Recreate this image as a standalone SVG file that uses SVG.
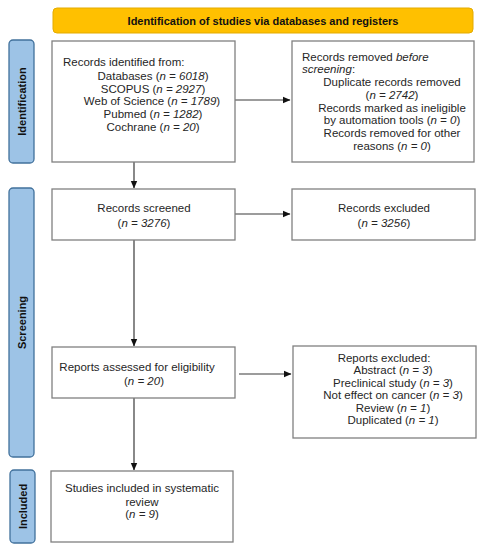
<svg xmlns="http://www.w3.org/2000/svg" width="485" height="550" viewBox="0 0 485 550">
<style>
.bg{fill:#ffffff}
.box{fill:#ffffff;stroke:#808080;stroke-width:1.3}
.side{fill:#9dc3e6;stroke:#41719c;stroke-width:1.3}
.bar{fill:#ffc000;stroke:#e3ab00;stroke-width:1}
.t{font-family:"Liberation Sans",Arial,sans-serif;font-size:11.5px;fill:#262626}
.c{text-anchor:middle}
.b{font-weight:bold;font-size:11px;fill:#111111}
.conn{stroke:#3a3a3a;stroke-width:1.2;fill:none}
</style>
<defs>
<marker id="ah" markerWidth="8" markerHeight="8" refX="7" refY="4" orient="auto" markerUnits="userSpaceOnUse">
<path d="M0,0.8 L7.5,4 L0,7.2 Z" fill="#111111"/>
</marker>
</defs>
<rect class="bg" x="0" y="0" width="485" height="550"/>

<g id="title">
<rect class="bar" x="53" y="8" width="420" height="25" rx="4"/>
<text class="t c b" x="263" y="24.5">Identification of studies via databases and registers</text>
</g>

<g id="side-identification">
<rect class="side" x="9" y="40" width="25" height="123" rx="4"/>
<text class="t c b" transform="translate(25.5,101.5) rotate(-90)" font-size="11.5">Identification</text>
</g>
<g id="side-screening">
<rect class="side" x="9" y="188" width="25" height="269" rx="4"/>
<text class="t c b" transform="translate(25.5,322.5) rotate(-90)" font-size="11.5">Screening</text>
</g>
<g id="side-included">
<rect class="side" x="10" y="470" width="25" height="73" rx="4"/>
<text class="t c b" transform="translate(26.5,506.5) rotate(-90)" font-size="11.5">Included</text>
</g>

<g id="connectors">
<line class="conn" x1="235" y1="100" x2="290" y2="100" marker-end="url(#ah)"/>
<line class="conn" x1="134" y1="162" x2="134" y2="188" marker-end="url(#ah)"/>
<line class="conn" x1="235" y1="214" x2="290" y2="214" marker-end="url(#ah)"/>
<line class="conn" x1="134" y1="240" x2="134" y2="346" marker-end="url(#ah)"/>
<line class="conn" x1="239" y1="374" x2="291" y2="374" marker-end="url(#ah)"/>
<line class="conn" x1="134" y1="398" x2="134" y2="470" marker-end="url(#ah)"/>
</g>

<g id="records-identified">
<rect class="box" x="52" y="41" width="183" height="121"/>
<text class="t" x="63" y="66">Records identified from:</text>
<text class="t c" x="153" y="80">Databases (<tspan font-style="italic">n = 6018</tspan>)</text>
<text class="t c" x="153" y="93">SCOPUS (<tspan font-style="italic">n = 2927</tspan>)</text>
<text class="t c" x="152" y="105">Web of Science (<tspan font-style="italic">n = 1789</tspan>)</text>
<text class="t c" x="153" y="118">Pubmed (<tspan font-style="italic">n = 1282</tspan>)</text>
<text class="t c" x="153" y="131">Cochrane (<tspan font-style="italic">n = 20</tspan>)</text>
</g>

<g id="records-removed">
<rect class="box" x="292" y="41" width="182" height="121"/>
<text class="t" x="302" y="61">Records removed <tspan font-style="italic">before</tspan></text>
<text class="t" x="302" y="73" font-style="italic">screening<tspan font-style="normal">:</tspan></text>
<text class="t c" x="392" y="86">Duplicate records removed</text>
<text class="t c" x="392" y="99">(<tspan font-style="italic">n = 2742</tspan>)</text>
<text class="t c" x="392" y="112">Records marked as ineligible</text>
<text class="t c" x="392" y="124">by automation tools (<tspan font-style="italic">n = 0</tspan>)</text>
<text class="t c" x="392" y="137">Records removed for other</text>
<text class="t c" x="392" y="150">reasons (<tspan font-style="italic">n = 0</tspan>)</text>
</g>

<g id="records-screened">
<rect class="box" x="52" y="189" width="183" height="51"/>
<text class="t c" x="144" y="212">Records screened</text>
<text class="t c" x="144" y="227">(<tspan font-style="italic">n = 3276</tspan>)</text>
</g>

<g id="records-excluded">
<rect class="box" x="292" y="189" width="183" height="51"/>
<text class="t c" x="384" y="212">Records excluded</text>
<text class="t c" x="384" y="227">(<tspan font-style="italic">n = 3256</tspan>)</text>
</g>

<g id="reports-assessed">
<rect class="box" x="52" y="347" width="183" height="51"/>
<text class="t c" x="137" y="371">Reports assessed for eligibility</text>
<text class="t c" x="144" y="385">(<tspan font-style="italic">n = 20</tspan>)</text>
</g>

<g id="reports-excluded">
<rect class="box" x="293" y="346" width="183" height="92"/>
<text class="t c" x="384" y="362">Reports excluded:</text>
<text class="t c" x="393" y="374">Abstract (<tspan font-style="italic">n = 3</tspan>)</text>
<text class="t c" x="393" y="387">Preclinical study (<tspan font-style="italic">n = 3</tspan>)</text>
<text class="t c" x="393" y="399">Not effect on cancer (<tspan font-style="italic">n = 3</tspan>)</text>
<text class="t c" x="393" y="412">Review (<tspan font-style="italic">n = 1</tspan>)</text>
<text class="t c" x="393" y="424">Duplicated (<tspan font-style="italic">n = 1</tspan>)</text>
</g>

<g id="studies-included">
<rect class="box" x="51" y="471" width="182" height="71"/>
<text class="t c" x="142" y="492">Studies included in systematic</text>
<text class="t c" x="142" y="506">review</text>
<text class="t c" x="142" y="518">(<tspan font-style="italic">n = 9</tspan>)</text>
</g>
</svg>
